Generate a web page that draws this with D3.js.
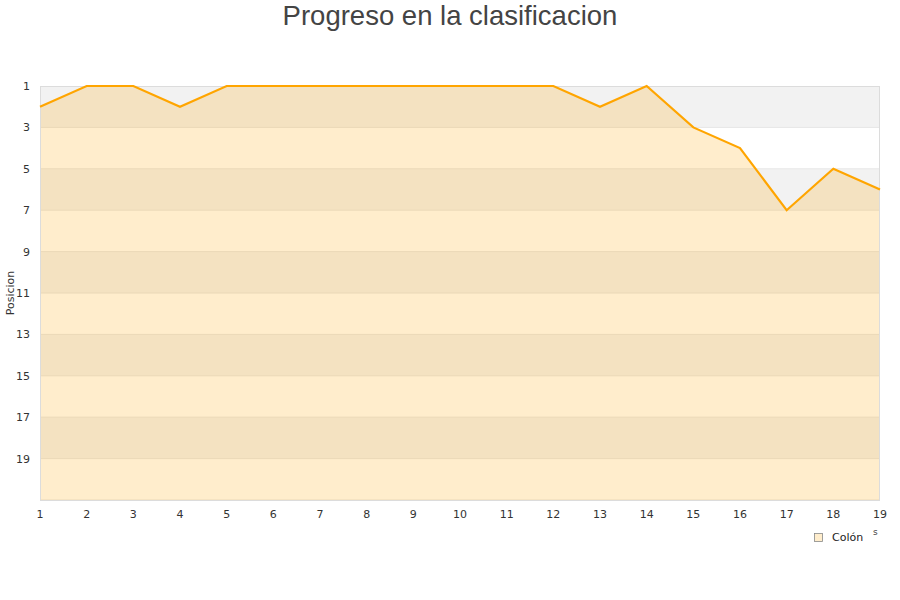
<!DOCTYPE html>
<html><head><meta charset="utf-8">
<script src="https://cdn.jsdelivr.net/npm/d3@7"></script>
<style>body{margin:0;background:#fff;font-family:"DejaVu Sans",sans-serif}</style>
</head><body><svg id="c" width="900" height="600"></svg>
<script>
const rounds = [1,2,3,4,5,6,7,8,9,10,11,12,13,14,15,16,17,18,19];
const positions = [2,1,1,2,1,1,1,1,1,1,1,1,2,1,3,4,7,5,6];
const yTicks = [1,3,5,7,9,11,13,15,17,19];
const seriesName = "Colón";
const title = "Progreso en la clasificacion";
const yTitle = "Posicion";

const svg = d3.select("#c");
const L=40,R=880,T=86,B=500;
const x = d3.scaleLinear().domain([1,19]).range([L,R]);
const y = d3.scaleLinear().domain([1,21]).range([T,B]);

const bands = d3.range(1,21,2);
svg.selectAll("rect.band").data(bands).enter().append("rect")
  .attr("x",L).attr("width",R-L)
  .attr("y",d=>y(d)).attr("height",d=>y(d+2)-y(d))
  .attr("fill",(d,i)=>i%2===0?"#f2f2f2":"#ffffff");
svg.selectAll("line.g").data(yTicks.slice(1).concat([21])).enter().append("line")
  .attr("x1",L).attr("x2",R).attr("y1",d=>y(d)).attr("y2",d=>y(d))
  .attr("stroke","#e6e6e6");

const area = d3.area().x((d,i)=>x(rounds[i])).y0(y(21)).y1(d=>y(d));
svg.append("path").datum(positions).attr("d",area).attr("fill","rgba(255,165,0,0.2)");
svg.append("rect").attr("x",L+0.5).attr("y",T+0.5).attr("width",R-L-1).attr("height",B-T)
  .attr("fill","none").attr("stroke","#dcdcdc");
const line = d3.line().x((d,i)=>x(rounds[i])).y(d=>y(d));
svg.append("path").datum(positions).attr("d",line).attr("fill","none")
  .attr("stroke","#ffa500").attr("stroke-width",2.2).attr("stroke-linejoin","miter");

svg.selectAll("text.yt").data(yTicks).enter().append("text")
  .attr("x",30).attr("y",d=>y(d)+4).attr("text-anchor","end")
  .attr("font-size",11).attr("fill","#333").text(d=>d);
svg.selectAll("text.xt").data(rounds).enter().append("text")
  .attr("x",d=>x(d)).attr("y",518).attr("text-anchor","middle")
  .attr("font-size",11).attr("fill","#333").text(d=>d);

svg.append("text").attr("x",450).attr("y",25).attr("text-anchor","middle")
  .attr("font-family","Liberation Sans, Arial, sans-serif")
  .attr("font-size",27.5).attr("fill","#444").text(title);
svg.append("text").attr("transform","translate(14,293) rotate(-90)")
  .attr("text-anchor","middle").attr("font-size",11).attr("fill","#333").text(yTitle);

svg.append("rect").attr("x",814.5).attr("y",533.5).attr("width",8).attr("height",8)
  .attr("fill","#ffedcc").attr("stroke","#888").attr("stroke-width",0.8);
svg.append("text").attr("x",832).attr("y",541).attr("font-size",11).attr("fill","#222").text(seriesName);
svg.append("text").attr("x",873).attr("y",535).attr("font-size",9).attr("fill","#444").text("s");
</script></body></html>
